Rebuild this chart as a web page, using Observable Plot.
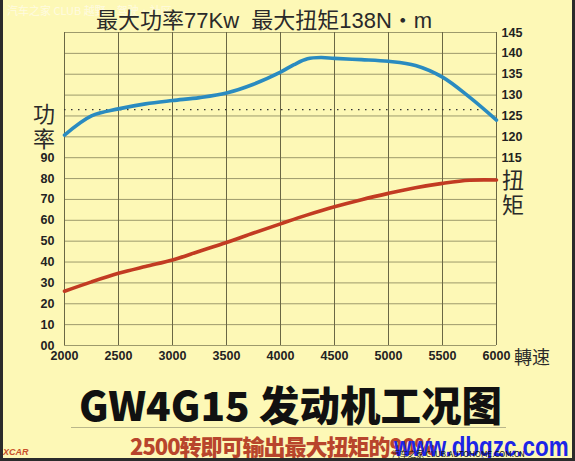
<!DOCTYPE html>
<html><head><meta charset="utf-8">
<script src="https://cdn.jsdelivr.net/npm/d3@7"></script>
<script src="https://cdn.jsdelivr.net/npm/@observablehq/plot@0.6"></script>
<style>
html,body{margin:0;padding:0;background:#fdf8b6;}
#wrap{position:relative;width:575px;height:461px;background:#fdf8b6;overflow:hidden;font-family:"Noto Sans CJK SC",sans-serif;}
#chart{position:absolute;left:0;top:0;}
.t{position:absolute;white-space:nowrap;line-height:1;}
.bl{position:absolute;background:#2b2b2b;}
</style></head>
<body>
<div id="wrap">
  <div id="chart"></div>
  <div class="t" id="wm1" style="left:7px;top:5px;font-size:11px;color:#fffbe0;">汽车之家 CLUB 越野·驾驶·社区</div>
  <div class="t" id="title" style="left:96px;top:10px;font-size:22px;color:#2a2a2a;font-family:'Liberation Sans','Noto Sans CJK SC',sans-serif;">最大功率77Kw&nbsp;&nbsp;最大扭矩138N・m</div>
  <div class="t" style="left:33px;top:101px;font-size:22px;color:#2a2a2a;">功</div>
  <div class="t" style="left:33px;top:126px;font-size:22px;color:#2a2a2a;">率</div>
  <div class="t" style="left:502px;top:167px;font-size:22px;color:#2a2a2a;">扭</div>
  <div class="t" style="left:502px;top:192px;font-size:22px;color:#2a2a2a;">矩</div>
  <div class="t" style="left:514px;top:347px;font-size:18px;color:#2a2a2a;">轉速</div>
  <div class="t" id="big" style="left:79px;top:384px;font-size:40.5px;font-weight:900;color:#111;">GW4G15 发动机工况图</div>
  <div style="position:absolute;left:71px;top:427px;width:435px;height:1px;background:#b9b68a;"></div>
  <div class="t" id="sub" style="left:130px;top:434px;font-size:22px;font-weight:900;color:#b8452c;letter-spacing:-1px;">2500转即可输出最大扭矩的90%</div>
  <div class="t" id="wm2" style="left:394px;top:433px;font-size:28px;font-weight:bold;color:#1c25e6;font-family:'Liberation Sans',sans-serif;transform:scaleX(0.8);transform-origin:0 0;">www.dbgzc.com</div>
  <div class="t" style="left:392px;top:450px;font-size:8px;color:#111;">汽车之家 CLUB.AUTOHOME.COM.CN</div>
  <div class="t" style="left:3px;top:448px;font-size:9px;font-weight:bold;font-style:italic;color:#c8502a;font-family:'Liberation Sans',sans-serif;">XCAR</div>
  <div class="bl" style="left:0;top:0;width:3px;height:461px;"></div>
  <div class="bl" style="left:572px;top:0;width:3px;height:461px;"></div>
  <div class="bl" style="left:0;top:458px;width:575px;height:3px;"></div>
</div>
<script>
// engine speed (rpm) for the power curve
const powerRpm = [2000,2250,2500,2750,3000,3250,3500,3750,4000,4250,4500,4750,5000,5250,5500,5750,6000];
// power (kW), left axis
const power = [26.0,30.5,34.6,37.9,41.0,45.2,49.4,53.9,58.3,62.6,66.5,69.9,72.9,75.6,77.7,79.2,79.3];
// engine speed (rpm) for the torque curve
const torqueRpm = [2000,2250,2500,2750,3000,3250,3500,3750,4000,4125,4250,4375,4500,4750,5000,5250,5500,5750,6000];
// torque (N·m), right axis
const torque = [120.4,125.0,126.7,127.9,128.7,129.4,130.5,132.6,135.5,137.3,138.7,139.0,138.8,138.5,138.1,137.1,134.3,129.5,124.0];
// 90% reference line (torque)
const refTorque = [126.5];
// tick labels
const xTicks = [2000,2500,3000,3500,4000,4500,5000,5500,6000];
const powerTicks = [0,10,20,30,40,50,60,70,80,90];
const torqueTicks = [115,120,125,130,135,140,145];
const gridPower = [0,10,20,30,40,50,60,70,80,90,100,110,120,130,140,150];

// torque axis [70,145] shares the frame with power axis [0,150]
const TMIN = 70, TMAX = 145, PMAX = 150;
const toP = t => (t - TMIN) * PMAX / (TMAX - TMIN);
const fromP = p => p * (TMAX - TMIN) / PMAX + TMIN;

const powerData = powerRpm.map((r,i) => ({rpm:r, v:power[i]}));
const torqueData = torqueRpm.map((r,i) => ({rpm:r, v:toP(torque[i])}));

const chart = Plot.plot({
  width: 575, height: 372,
  marginLeft: 64, marginRight: 79, marginTop: 32, marginBottom: 27,
  style: {background:"transparent", fontFamily:"'Liberation Sans',Arial,sans-serif", fontSize:"12.5px", fontWeight:"bold", color:"#222"},
  x: {domain:[2000,6000]},
  y: {domain:[0,PMAX]},
  marks: [
    Plot.ruleY(gridPower, {stroke:"#9d9a6c", strokeWidth:1, strokeOpacity:1}),
    Plot.ruleX(xTicks, {stroke:"#6a6744", strokeWidth:1, strokeOpacity:1}),
    Plot.ruleY(refTorque.map(toP), {stroke:"#333", strokeWidth:1.3, strokeDasharray:"1.5,5.5"}),
    Plot.line(powerData, {x:"rpm", y:"v", stroke:"#c23b22", strokeWidth:3.6, curve:"catmull-rom"}),
    Plot.line(torqueData, {x:"rpm", y:"v", stroke:"#2a8bc0", strokeWidth:3.6, curve:"catmull-rom"}),
    Plot.axisY(powerTicks, {anchor:"left", tickSize:0, tickPadding:10, label:null, tickFormat:d => d === 0 ? "00" : String(d)}),
    Plot.axisY(torqueTicks.map(toP), {anchor:"right", tickSize:0, tickPadding:5, label:null, tickFormat:p => String(Math.round(fromP(p)))}),
    Plot.axisX(xTicks, {anchor:"bottom", tickSize:0, tickPadding:6, label:null, tickFormat:d => String(d)})
  ]
});
document.getElementById("chart").appendChild(chart);
</script>
</body></html>
